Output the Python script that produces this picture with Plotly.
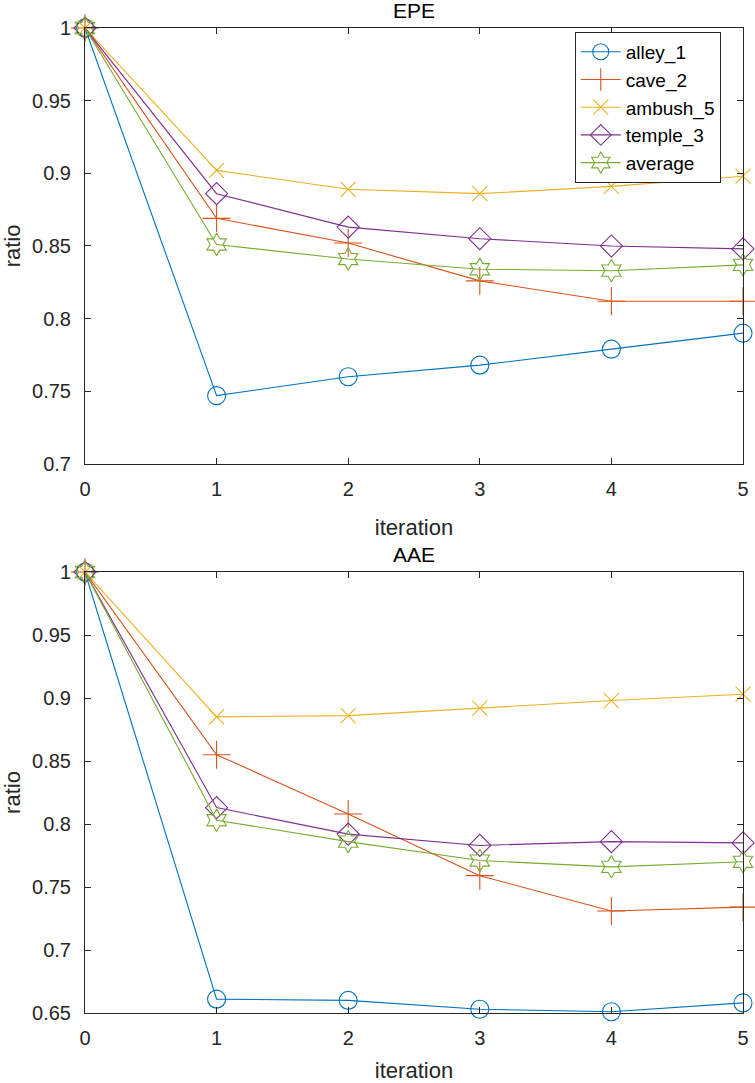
import plotly.graph_objects as go

iterations = [0, 1, 2, 3, 4, 5]
series_names = ["alley_1", "cave_2", "ambush_5", "temple_3", "average"]

epe_alley_1 = [1.0, 0.747, 0.760, 0.768, 0.779, 0.790]
epe_cave_2 = [1.0, 0.869, 0.852, 0.826, 0.812, 0.812]
epe_ambush_5 = [1.0, 0.902, 0.889, 0.886, 0.891, 0.898]
epe_temple_3 = [1.0, 0.886, 0.863, 0.855, 0.850, 0.848]
epe_average = [1.0, 0.851, 0.841, 0.834, 0.833, 0.837]

aae_alley_1 = [1.0, 0.661, 0.660, 0.653, 0.651, 0.658]
aae_cave_2 = [1.0, 0.855, 0.808, 0.759, 0.731, 0.734]
aae_ambush_5 = [1.0, 0.885, 0.886, 0.892, 0.898, 0.903]
aae_temple_3 = [1.0, 0.813, 0.792, 0.783, 0.786, 0.785]
aae_average = [1.0, 0.803, 0.786, 0.771, 0.766, 0.770]

epe_ticks = [0.7, 0.75, 0.8, 0.85, 0.9, 0.95, 1.0]
epe_ticktext = ["0.7", "0.75", "0.8", "0.85", "0.9", "0.95", "1"]
aae_ticks = [0.65, 0.7, 0.75, 0.8, 0.85, 0.9, 0.95, 1.0]
aae_ticktext = ["0.65", "0.7", "0.75", "0.8", "0.85", "0.9", "0.95", "1"]
x_ticks = [0, 1, 2, 3, 4, 5]

colors = ["#0072BD", "#D95319", "#EDB120", "#7E2F8E", "#77AC30"]
symbols = ["circle-open", "cross-thin-open", "x-thin-open", "diamond-open", "hexagram-open"]
sizes = [18, 20, 15, 17, 17]

FONT = "Liberation Sans, Arial, sans-serif"
AX = "#262626"

fig = go.Figure()

epe = [epe_alley_1, epe_cave_2, epe_ambush_5, epe_temple_3, epe_average]
aae = [aae_alley_1, aae_cave_2, aae_ambush_5, aae_temple_3, aae_average]

for i, name in enumerate(series_names):
    fig.add_trace(go.Scatter(
        x=iterations, y=epe[i], name=name, mode="lines+markers",
        line=dict(color=colors[i], width=1.1),
        marker=dict(symbol=symbols[i], size=sizes[i], color=colors[i],
                    line=dict(color=colors[i], width=1.1)),
        cliponaxis=False, xaxis="x", yaxis="y", showlegend=True,
    ))
for i, name in enumerate(series_names):
    fig.add_trace(go.Scatter(
        x=iterations, y=aae[i], name=name, mode="lines+markers",
        line=dict(color=colors[i], width=1.1),
        marker=dict(symbol=symbols[i], size=sizes[i], color=colors[i],
                    line=dict(color=colors[i], width=1.1)),
        cliponaxis=False, xaxis="x2", yaxis="y2", showlegend=False,
    ))

axis_common = dict(
    showline=True, linecolor=AX, linewidth=1, mirror="allticks",
    ticks="inside", ticklen=6, tickcolor=AX, tickwidth=1,
    showgrid=False, zeroline=False, automargin=False,
    tickfont=dict(family=FONT, size=20, color=AX),
)

fig.update_layout(
    width=755, height=1083,
    margin=dict(l=85, r=12, t=28, b=70, autoexpand=False),
    paper_bgcolor="white", plot_bgcolor="white",
    font=dict(family=FONT, size=20, color=AX),
    xaxis=dict(domain=[0, 1], range=[0, 5], tickvals=x_ticks, anchor="y",
               ticklabelstandoff=7,
               title=dict(text="iteration", font=dict(family=FONT, size=22, color=AX), standoff=20),
               **axis_common),
    yaxis=dict(domain=[0.5574, 1.0], range=[0.7, 1.0], tickvals=epe_ticks, ticktext=epe_ticktext,
               anchor="x", ticklabelstandoff=9,
               title=dict(text="ratio", font=dict(family=FONT, size=22, color=AX), standoff=6),
               **axis_common),
    xaxis2=dict(domain=[0, 1], range=[0, 5], tickvals=x_ticks, anchor="y2",
                ticklabelstandoff=7,
                title=dict(text="iteration", font=dict(family=FONT, size=22, color=AX), standoff=20),
                **axis_common),
    yaxis2=dict(domain=[0.0, 0.4477], range=[0.65, 1.0], tickvals=aae_ticks, ticktext=aae_ticktext,
                anchor="x2", ticklabelstandoff=9,
                title=dict(text="ratio", font=dict(family=FONT, size=22, color=AX), standoff=6),
                **axis_common),
    legend=dict(x=0.7443, y=0.996, xanchor="left", yanchor="top",
                bgcolor="white", bordercolor=AX, borderwidth=1,
                font=dict(family=FONT, size=19, color="black"),
                tracegroupgap=0, itemwidth=40),
    annotations=[
        dict(text="EPE", x=0.5, y=1.0, xref="paper", yref="paper",
             xanchor="center", yanchor="bottom", showarrow=False, yshift=4,
             font=dict(family=FONT, size=21, color="black")),
        dict(text="AAE", x=0.5, y=0.4477, xref="paper", yref="paper",
             xanchor="center", yanchor="bottom", showarrow=False, yshift=4,
             font=dict(family=FONT, size=21, color="black")),
    ],
)

fig.write_html("out.html", config={"displayModeBar": False},
               post_script="document.body.style.margin='0';document.body.style.overflow='hidden';")
